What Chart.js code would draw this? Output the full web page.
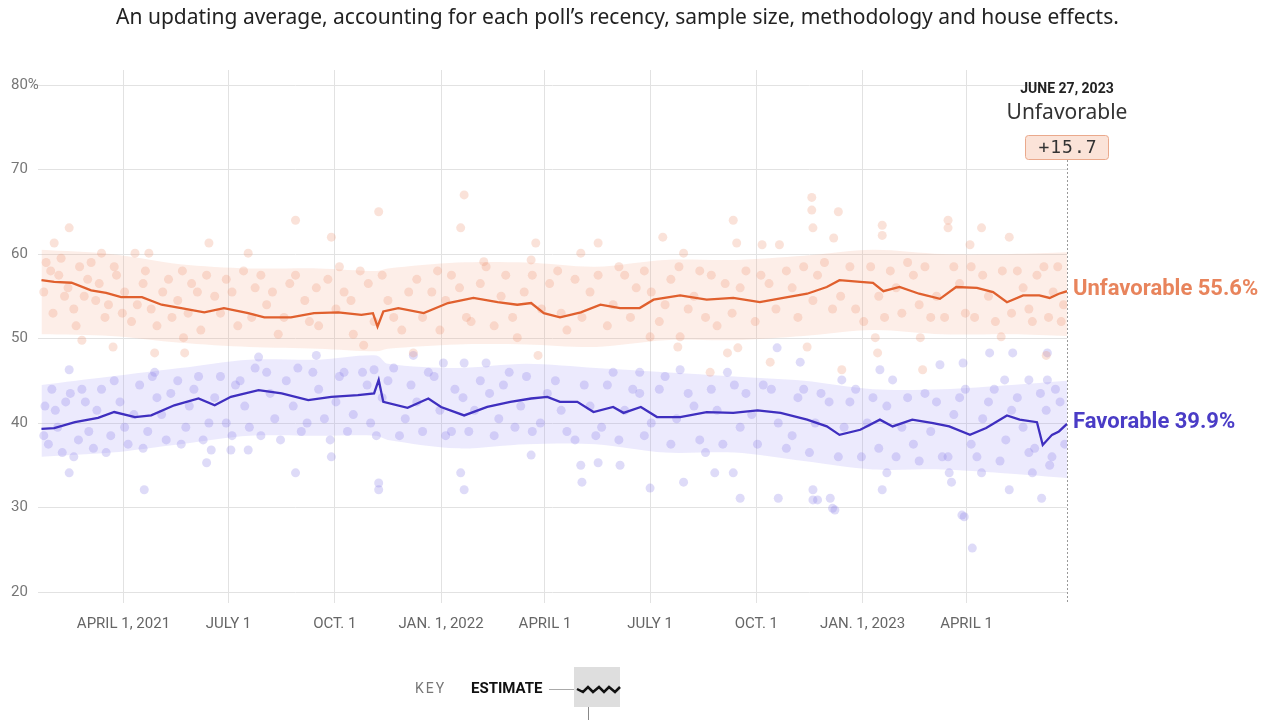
<!DOCTYPE html>
<html>
<head>
<meta charset="utf-8">
<script src="https://cdn.jsdelivr.net/npm/chart.js@4.4.0/dist/chart.umd.min.js"></script>
<style>
  body { margin: 0; background: #fff; }
  #wrap { position: relative; width: 1279px; height: 720px; overflow: hidden; }
  #title { position: absolute; top: 6px; left: -22px; width: 1279px; text-align: center;
           font: 21px/21px "Noto Sans", Roboto, sans-serif; color: #222; white-space: nowrap; }
  canvas { position: absolute; left: 0; top: 0; }
</style>
</head>
<body>
<div id="wrap">
  <canvas id="chart" width="1279" height="720"></canvas>
  <div id="title">An updating average, accounting for each poll’s recency, sample size, methodology and house effects.</div>
</div>
<script>
// x values are days since Jan. 20, 2021
const tickDays = [71, 162, 254, 346, 436, 527, 619, 711, 801];
const tickLabels = ['APRIL 1, 2021', 'JULY 1', 'OCT. 1', 'JAN. 1, 2022', 'APRIL 1', 'JULY 1', 'OCT. 1', 'JAN. 1, 2023', 'APRIL 1'];
const yTicks = [20, 30, 40, 50, 60, 70, 80];

// Unfavorable average
const unfavDays = [0, 11, 26, 43, 56, 69, 87, 104, 121, 141, 158, 179, 193, 216, 236, 257, 277, 287, 291, 296, 309, 331, 352, 374, 395, 412, 424, 435, 449, 467, 484, 501, 518, 530, 553, 576, 599, 622, 646, 663, 680, 691, 709, 720, 729, 743, 760, 778, 792, 810, 824, 836, 850, 864, 873, 881, 888];
const unfavAvg = [56.9, 56.7, 56.6, 55.7, 55.4, 54.9, 54.9, 54.0, 53.6, 53.1, 53.6, 53.0, 52.5, 52.5, 53.0, 53.1, 52.8, 53.0, 51.4, 53.2, 53.6, 53.0, 54.2, 54.8, 54.3, 54.0, 54.2, 53.0, 52.5, 53.1, 54.0, 53.6, 53.6, 54.6, 55.1, 54.6, 54.8, 54.3, 54.9, 55.3, 56.1, 56.9, 56.7, 56.6, 55.6, 56.1, 55.3, 54.7, 56.1, 56.0, 55.5, 54.3, 55.1, 55.1, 54.8, 55.3, 55.6];

// Favorable average
const favDays = [0, 11, 29, 49, 63, 81, 95, 115, 136, 150, 164, 188, 208, 231, 251, 274, 288, 292, 296, 317, 335, 346, 366, 386, 406, 424, 438, 449, 464, 478, 495, 504, 519, 533, 553, 576, 599, 620, 640, 663, 680, 691, 709, 726, 737, 754, 772, 786, 804, 818, 836, 847, 862, 867, 875, 881, 888];
const favAvg = [39.3, 39.4, 40.1, 40.6, 41.3, 40.7, 40.9, 42.1, 42.9, 42.1, 43.1, 43.9, 43.5, 42.7, 43.1, 43.3, 43.5, 45.1, 42.5, 41.8, 42.9, 41.9, 40.9, 41.9, 42.5, 42.9, 43.1, 42.5, 42.5, 41.3, 41.9, 41.2, 41.9, 40.7, 40.7, 41.3, 41.2, 41.5, 41.2, 40.4, 39.6, 38.6, 39.2, 40.4, 39.6, 40.4, 40.0, 39.6, 38.6, 39.4, 40.9, 40.4, 40.1, 37.4, 38.6, 39.0, 39.9];

// uncertainty bands
const bandDays = [0, 60, 120, 180, 240, 290, 300, 360, 420, 480, 540, 600, 660, 720, 780, 840, 888];
const unfavHi = [60.5, 60.0, 58.8, 58.3, 58.3, 58.0, 58.3, 59.0, 59.0, 58.5, 59.3, 59.3, 59.8, 60.5, 60.0, 60.0, 60.2];
const unfavLo = [50.5, 50.3, 49.5, 49.0, 48.8, 48.5, 48.8, 49.3, 49.3, 49.0, 49.8, 49.8, 50.3, 51.0, 50.5, 50.5, 50.3];
const favHi = [44.5, 45.5, 46.5, 47.5, 47.5, 48.0, 47.0, 46.5, 47.0, 46.5, 46.0, 45.5, 45.0, 44.0, 44.0, 44.5, 45.0];
const favLo = [36.0, 36.5, 37.5, 38.5, 38.5, 38.5, 38.0, 37.0, 37.5, 37.5, 36.5, 36.5, 35.5, 34.5, 34.5, 34.0, 33.5];

// individual polls [day, value]
const unfavPolls = [
  [24, 63.1], [220, 64.0], [292, 65.0], [251, 62.0], [366, 67.0], [363, 63.1], [145, 61.3], [179, 60.1],
  [424, 59.3], [428, 61.3], [11, 61.3], [52, 60.1], [81, 60.1], [93, 60.1], [383, 59.1], [35, 49.8],
  [62, 49.0], [123, 50.1], [124, 48.3], [98, 48.3], [322, 48.3], [279, 49.2], [412, 50.1], [430, 48.0],
  [599, 64.0], [538, 62.0], [482, 61.3], [667, 66.7], [667, 65.2], [690, 65.0], [668, 63.1], [728, 63.4],
  [728, 62.2], [785, 64.0], [785, 63.1], [838, 62.0], [814, 63.1], [639, 61.1], [624, 61.1], [602, 61.3],
  [686, 61.9], [467, 60.1], [556, 60.1], [804, 61.1], [527, 50.2], [551, 49.0], [553, 50.2], [603, 48.9],
  [631, 47.2], [663, 49.0], [724, 48.3], [763, 46.3], [722, 50.1], [761, 50.1], [831, 50.2], [579, 46.0],
  [594, 48.3], [693, 46.3], [870, 48.0],
  [4, 59.0], [8, 58.0], [15, 57.5], [20, 55.0], [28, 53.5], [33, 58.5], [40, 57.0], [47, 54.5], [55, 52.5],
  [65, 57.5], [72, 55.5], [78, 52.0], [88, 56.5], [100, 51.5], [110, 57.0], [118, 54.5], [130, 56.5],
  [138, 51.0], [150, 55.0], [160, 57.0], [170, 51.5], [185, 56.0], [195, 54.0], [205, 50.5], [215, 56.5],
  [228, 54.5], [240, 51.5], [248, 57.0], [262, 55.5], [270, 50.5], [283, 56.5], [300, 54.5], [312, 51.0],
  [325, 57.0], [338, 55.5], [345, 51.0], [355, 57.5], [372, 52.0], [380, 56.5], [392, 51.5], [402, 57.5],
  [418, 55.5], [440, 56.5], [455, 51.0], [462, 57.0], [475, 55.5], [490, 51.5], [505, 57.5], [515, 56.0],
  [535, 52.0], [545, 57.0], [560, 53.5], [570, 58.0], [585, 51.5], [592, 56.5], [610, 58.0], [618, 52.0],
  [630, 56.5], [645, 58.0], [655, 52.5], [672, 57.5], [685, 53.5], [700, 58.5], [712, 52.0], [735, 58.0],
  [745, 53.0], [755, 57.5], [770, 52.5], [790, 58.5], [800, 53.0], [815, 57.5], [826, 52.0], [845, 58.0],
  [855, 53.5], [862, 57.5], [872, 52.5], [880, 58.5], [885, 54.0],
  [2, 55.5], [10, 53.0], [17, 59.5], [23, 56.0], [30, 51.5], [37, 55.0], [43, 59.0], [50, 56.5], [58, 54.0],
  [63, 58.5], [70, 53.0], [83, 54.0], [90, 58.0], [95, 53.5], [105, 55.5], [113, 52.5], [122, 58.0],
  [127, 53.0], [135, 55.5], [143, 57.5], [155, 53.0], [165, 55.5], [175, 58.0], [182, 52.5], [190, 57.5],
  [200, 55.5], [210, 52.5], [220, 57.5], [232, 52.0], [238, 56.0], [255, 53.5], [258, 58.5], [268, 54.5],
  [276, 58.0], [288, 52.0], [295, 57.5], [305, 52.5], [318, 55.5], [330, 52.5], [343, 58.0], [350, 54.5],
  [362, 56.0], [368, 52.5], [385, 58.5], [398, 55.0], [408, 52.5], [425, 57.5], [433, 53.5], [447, 58.0],
  [450, 53.0], [468, 52.5], [482, 57.5], [495, 54.0], [500, 58.5], [510, 52.5], [522, 58.0], [528, 55.5],
  [540, 54.0], [552, 58.5], [565, 55.0], [575, 52.5], [580, 57.5], [598, 53.0], [605, 56.0], [623, 57.5],
  [636, 53.5], [650, 56.0], [660, 58.5], [668, 54.5], [678, 59.0], [692, 55.0], [705, 53.5], [718, 58.5],
  [725, 55.0], [730, 52.5], [740, 56.0], [750, 59.0], [760, 54.0], [765, 58.5], [775, 55.0], [782, 52.5],
  [795, 56.5], [805, 58.5], [808, 52.5], [820, 55.0], [832, 58.0], [840, 53.0], [850, 56.0], [858, 52.0],
  [868, 58.5], [876, 55.5], [883, 52.0]
];
const favPolls = [
  [24, 34.1], [89, 32.1], [220, 34.1], [292, 32.9], [292, 32.1], [363, 34.1], [366, 32.1], [251, 36.0],
  [143, 35.3], [424, 36.2], [24, 46.3], [98, 46.0], [188, 47.8], [238, 48.0], [288, 46.3], [348, 47.1],
  [366, 47.1], [385, 47.1], [322, 48.0], [147, 36.8], [164, 36.8], [179, 36.8],
  [468, 33.0], [467, 35.0], [501, 35.0], [482, 35.3], [527, 32.3], [556, 33.0], [583, 34.1], [599, 34.1],
  [605, 31.1], [638, 31.1], [668, 32.1], [668, 30.9], [683, 31.1], [687, 29.7], [728, 32.1], [732, 34.1],
  [786, 34.1], [788, 33.0], [797, 29.1], [814, 34.1], [838, 32.1], [866, 31.1], [858, 34.1], [873, 35.0],
  [806, 25.2], [799, 28.9], [834, 45.1], [778, 46.9], [726, 46.3], [737, 45.1], [798, 47.1], [821, 48.3],
  [841, 48.3], [871, 48.3], [855, 45.1], [871, 45.1], [693, 45.1], [657, 47.2], [637, 48.9], [594, 46.0],
  [553, 46.3], [518, 46.0], [672, 30.9], [685, 29.9],
  [3, 42.0], [6, 37.5], [12, 41.5], [18, 36.5], [25, 43.5], [32, 38.0], [38, 42.5], [45, 37.0], [52, 44.0],
  [60, 38.5], [68, 42.5], [75, 37.5], [85, 44.5], [92, 39.0], [100, 43.0], [108, 38.0], [118, 45.0],
  [125, 39.5], [132, 44.0], [140, 38.0], [155, 45.5], [160, 40.0], [172, 45.0], [180, 39.5], [195, 46.0],
  [202, 40.5], [212, 45.0], [225, 39.0], [235, 46.0], [245, 40.5], [258, 45.5], [265, 39.0], [278, 46.0],
  [285, 40.0], [300, 45.0], [310, 38.5], [320, 44.5], [330, 39.0], [340, 45.5], [350, 38.5], [358, 44.0],
  [370, 39.0], [380, 45.0], [392, 38.5], [400, 44.5], [410, 39.5], [420, 45.5], [432, 40.0], [445, 45.0],
  [455, 39.0], [470, 44.5], [480, 38.5], [490, 44.5], [500, 38.0], [512, 44.0], [522, 38.5], [535, 44.0],
  [545, 37.5], [560, 43.5], [570, 38.0], [580, 44.0], [590, 37.5], [610, 43.5], [620, 37.5], [632, 44.0],
  [645, 37.0], [655, 43.0], [665, 36.5], [675, 43.5], [690, 36.0], [700, 42.5], [710, 36.0], [720, 43.0],
  [740, 36.0], [750, 43.0], [760, 35.5], [775, 42.5], [785, 36.0], [795, 43.0], [810, 36.0], [820, 42.5],
  [830, 35.5], [845, 43.0], [855, 36.5], [865, 43.5], [875, 36.0], [882, 42.5],
  [2, 38.5], [9, 44.0], [14, 39.5], [21, 42.5], [28, 36.0], [35, 44.0], [41, 39.0], [48, 41.5], [56, 36.5],
  [63, 45.0], [72, 39.5], [80, 41.0], [88, 37.0], [96, 45.5], [104, 41.0], [112, 43.5], [121, 37.5],
  [128, 42.0], [136, 45.5], [145, 40.0], [150, 43.0], [165, 38.5], [168, 44.5], [176, 42.0], [185, 46.5],
  [190, 38.5], [198, 43.5], [207, 38.0], [218, 42.0], [222, 46.5], [230, 40.0], [240, 44.0], [250, 38.0],
  [255, 42.5], [262, 46.0], [270, 41.0], [282, 44.5], [290, 38.5], [295, 43.0], [305, 46.5], [315, 40.5],
  [325, 42.5], [335, 46.0], [345, 41.5], [355, 39.0], [365, 43.0], [375, 41.5], [388, 43.5], [396, 40.5],
  [405, 46.0], [415, 42.0], [425, 39.0], [438, 43.5], [450, 41.5], [462, 38.0], [475, 42.0], [485, 39.5],
  [495, 46.0], [505, 41.5], [518, 43.5], [528, 40.0], [540, 45.5], [550, 40.5], [565, 42.0], [575, 36.5],
  [585, 41.5], [600, 44.5], [605, 39.5], [615, 41.0], [625, 44.5], [638, 40.0], [650, 38.5], [660, 44.0],
  [670, 40.0], [682, 42.5], [695, 39.5], [705, 44.0], [715, 40.0], [725, 37.0], [732, 42.0], [745, 39.5],
  [755, 37.5], [765, 43.5], [770, 39.0], [780, 36.0], [790, 41.0], [800, 44.0], [805, 37.5], [815, 40.5],
  [825, 44.0], [835, 38.0], [840, 41.5], [850, 39.5], [860, 37.0], [870, 41.5], [878, 44.0], [886, 37.5]
];

const lastDay = 888;
const sans = 'Roboto, "Noto Sans", sans-serif';

function xy(days, vals) {
    return days.map((d, i) => ({ x: d, y: vals[i] }));
}
function pts(list) {
    return list.map(p => ({ x: p[0], y: p[1] }));
}

// Text and markers around the plot
const annotations = {
    id: 'annotations',
    afterDraw(chart) {
        const ctx = chart.ctx;
        const xs = chart.scales.x, ys = chart.scales.y;
        const xEnd = Math.round(xs.getPixelForValue(lastDay));
        ctx.save();

        // dotted marker line
        ctx.strokeStyle = '#999';
        ctx.lineWidth = 1;
        ctx.setLineDash([2, 2]);
        ctx.beginPath();
        ctx.moveTo(xEnd + 0.5, 160);
        ctx.lineTo(xEnd + 0.5, 603);
        ctx.stroke();
        ctx.setLineDash([]);

        // date + leader
        ctx.textAlign = 'center';
        ctx.textBaseline = 'middle';
        ctx.fillStyle = '#222';
        ctx.font = 'bold 14px ' + sans;
        ctx.fillText('JUNE 27, 2023', xEnd, 89);
        ctx.font = '21px "Noto Sans", Roboto, sans-serif';
        ctx.fillStyle = '#333';
        ctx.fillText('Unfavorable', xEnd, 113);

        // margin box
        ctx.fillStyle = '#fbe3d8';
        ctx.strokeStyle = '#eaa98c';
        ctx.beginPath();
        ctx.roundRect(xEnd - 41.5, 135.5, 83, 24, 3);
        ctx.fill();
        ctx.stroke();
        ctx.fillStyle = '#333';
        ctx.font = '18px "DejaVu Sans Mono", monospace';
        ctx.letterSpacing = '1px';
        ctx.fillText('+15.7', xEnd + 1, 148);
        ctx.letterSpacing = '0px';

        // end labels
        ctx.textAlign = 'left';
        ctx.font = 'bold 22px ' + sans;
        ctx.fillStyle = '#e8845c';
        ctx.fillText('Unfavorable ' + unfavAvg[unfavAvg.length - 1].toFixed(1) + '%', xEnd + 6, ys.getPixelForValue(55.6) - 2);
        ctx.fillStyle = '#4a3cc6';
        ctx.fillText('Favorable ' + favAvg[favAvg.length - 1].toFixed(1) + '%', xEnd + 6, ys.getPixelForValue(39.9) - 1);

        // key
        ctx.fillStyle = '#777';
        ctx.font = '14px ' + sans;
        ctx.letterSpacing = '2px';
        ctx.fillText('KEY', 415, 689);
        ctx.letterSpacing = '0px';
        ctx.fillStyle = '#111';
        ctx.font = 'bold 15px ' + sans;
        ctx.fillText('ESTIMATE', 471, 689);
        ctx.strokeStyle = '#aaa';
        ctx.beginPath();
        ctx.moveTo(549, 689.5);
        ctx.lineTo(574, 689.5);
        ctx.stroke();
        ctx.fillStyle = 'rgba(200,200,200,0.6)';
        ctx.fillRect(574, 667, 46, 40);
        ctx.strokeStyle = '#888';
        ctx.beginPath();
        ctx.moveTo(588.5, 707);
        ctx.lineTo(588.5, 720);
        ctx.stroke();
        ctx.strokeStyle = '#111';
        ctx.lineWidth = 2.5;
        ctx.beginPath();
        ctx.moveTo(577, 689);
        [583, 588, 593, 599, 604, 609, 615, 620].forEach((px, i) => ctx.lineTo(px, i % 2 ? 687 : 692));
        ctx.stroke();
        ctx.restore();
    }
};

new Chart(document.getElementById('chart'), {
    type: 'line',
    data: {
        datasets: [
            { // 0
                data: xy(bandDays, unfavHi), fill: '+1', backgroundColor: 'rgba(246,170,140,0.20)',
                borderWidth: 0, pointRadius: 0, tension: 0.3, order: 3
            },
            { // 1
                data: xy(bandDays, unfavLo), fill: false, borderWidth: 0, pointRadius: 0, tension: 0.3, order: 3
            },
            { // 2
                data: xy(bandDays, favHi), fill: '+1', backgroundColor: 'rgba(160,150,245,0.20)',
                borderWidth: 0, pointRadius: 0, tension: 0.3, order: 3
            },
            { // 3
                data: xy(bandDays, favLo), fill: false, borderWidth: 0, pointRadius: 0, tension: 0.3, order: 3
            },
            {
                data: pts(unfavPolls), showLine: false, pointRadius: 4.5, pointBorderWidth: 0,
                pointBackgroundColor: 'rgba(236,150,120,0.28)', order: 2
            },
            {
                data: pts(favPolls), showLine: false, pointRadius: 4.5, pointBorderWidth: 0,
                pointBackgroundColor: 'rgba(135,125,230,0.28)', order: 2
            },
            {
                label: 'Unfavorable', data: xy(unfavDays, unfavAvg), borderColor: '#e0602e',
                borderWidth: 2.3, pointRadius: 0, fill: false, order: 1
            },
            {
                label: 'Favorable', data: xy(favDays, favAvg), borderColor: '#3f2fbf',
                borderWidth: 2.3, pointRadius: 0, fill: false, order: 1
            }
        ]
    },
    options: {
        responsive: false,
        animation: false,
        layout: { padding: { top: 70, left: 11, right: 212, bottom: 0 } },
        plugins: {
            legend: { display: false },
            tooltip: { enabled: false }
        },
        scales: {
            x: {
                type: 'linear',
                min: -3,
                max: lastDay,
                afterBuildTicks: scale => { scale.ticks = tickDays.map(v => ({ value: v })); },
                afterFit: scale => { scale.height = 128; },
                ticks: {
                    autoSkip: false,
                    maxRotation: 0,
                    padding: 12,
                    color: '#666',
                    font: { family: sans, size: 15 },
                    callback: (v, i) => tickLabels[i]
                },
                grid: { color: '#e2e2e2', tickLength: 11, drawTicks: true, tickColor: '#e2e2e2' },
                border: { display: false }
            },
            y: {
                min: 20,
                max: 81.78,
                afterBuildTicks: scale => { scale.ticks = yTicks.map(v => ({ value: v })); },
                afterFit: scale => { scale.width = 27; },
                ticks: {
                    crossAlign: 'far',
                    color: '#777',
                    font: { family: sans, size: 15 },
                    callback: v => v === 80 ? '80%' : v
                },
                grid: { color: '#e2e2e2', drawTicks: false },
                border: { display: false }
            }
        }
    },
    plugins: [annotations]
});
</script>
</body>
</html>
